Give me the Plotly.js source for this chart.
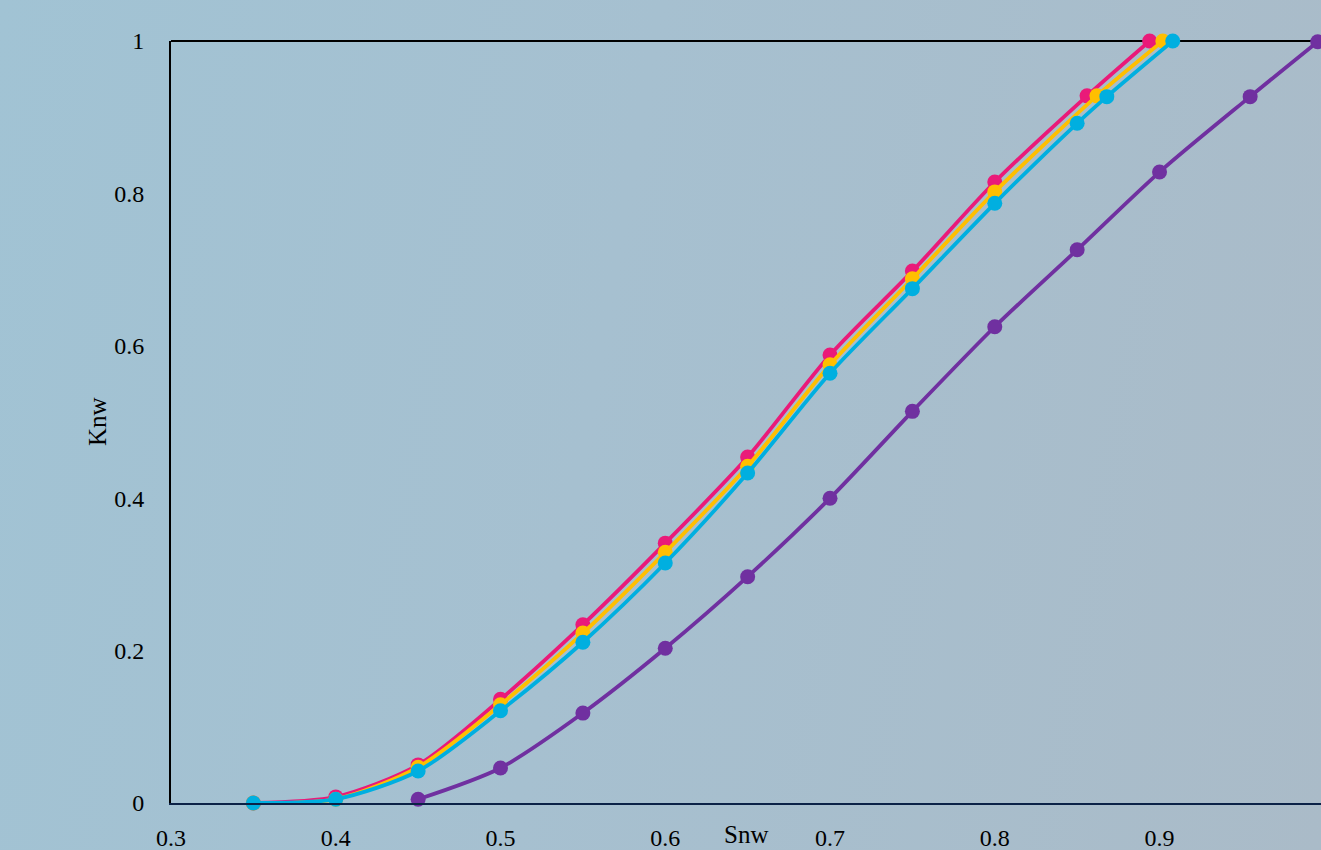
<!DOCTYPE html>
<html>
<head>
<meta charset="utf-8">
<script src="https://cdn.plot.ly/plotly-3.0.1.min.js"></script>
<style>
html, body { margin: 0; padding: 0; width: 1321px; height: 850px; overflow: hidden;
  background: linear-gradient(100deg, #a1c3d4 0%, #a6c0d0 45%, #aabbc8 100%); }
#chart { width: 1321px; height: 850px; }
</style>
</head>
<body>
<div id="chart"></div>
<script>
// Series data (Snw, Knw)
var pinkX   = [0.35, 0.40, 0.45, 0.50, 0.55, 0.60, 0.65, 0.70, 0.75, 0.80, 0.856, 0.894];
var pinkY   = [0.000, 0.008, 0.050, 0.136, 0.234, 0.341, 0.454, 0.588, 0.698, 0.815, 0.928, 1.000];
var orangeX = [0.35, 0.40, 0.45, 0.50, 0.55, 0.60, 0.65, 0.70, 0.75, 0.80, 0.862, 0.902];
var orangeY = [0.000, 0.005, 0.047, 0.129, 0.223, 0.329, 0.442, 0.575, 0.688, 0.802, 0.928, 1.000];
var blueX   = [0.35, 0.40, 0.45, 0.50, 0.55, 0.60, 0.65, 0.70, 0.75, 0.80, 0.850, 0.868, 0.908];
var blueY   = [0.000, 0.005, 0.042, 0.121, 0.211, 0.315, 0.433, 0.564, 0.675, 0.787, 0.892, 0.927, 1.000];
var purpleX = [0.45, 0.50, 0.55, 0.60, 0.65, 0.70, 0.75, 0.80, 0.85, 0.90, 0.955, 0.996];
var purpleY = [0.005, 0.046, 0.118, 0.203, 0.297, 0.400, 0.514, 0.625, 0.726, 0.828, 0.927, 0.999];

var xTicks = [0.3, 0.4, 0.5, 0.6, 0.7, 0.8, 0.9];
var xTickLabels = ['0.3', '0.4', '0.5', '0.6', '0.7', '0.8', '0.9'];
var yTicks = [0, 0.2, 0.4, 0.6, 0.8, 1];
var yTickLabels = ['0', '0.2', '0.4', '0.6', '0.8', '1'];

function series(x, y, color) {
  return {
    x: x, y: y, type: 'scatter', mode: 'lines+markers',
    line: { color: color, width: 3.8, shape: 'spline', smoothing: 0.8 },
    marker: { color: color, size: 15 },
    cliponaxis: false, showlegend: false, hoverinfo: 'x+y'
  };
}

var data = [
  series(purpleX, purpleY, '#7030a0'),
  series(pinkX, pinkY, '#ea1a79'),
  series(orangeX, orangeY, '#ffbf00'),
  series(blueX, blueY, '#00afe0')
];

var serif = '"Liberation Serif", "Times New Roman", serif';
var layout = {
  width: 1321, height: 850,
  margin: { l: 171, r: 0, t: 41, b: 47 },
  paper_bgcolor: 'rgba(0,0,0,0)',
  plot_bgcolor: 'rgba(0,0,0,0)',
  showlegend: false,
  xaxis: {
    range: [0.3, 0.998], tickvals: xTicks, ticktext: xTickLabels,
    showgrid: false, zeroline: false, showline: true, linecolor: '#0b2247', linewidth: 2,
    ticks: '', ticklabelstandoff: 12,
    tickfont: { family: serif, size: 24, color: '#000' }
  },
  yaxis: {
    range: [0, 1], tickvals: yTicks, ticktext: yTickLabels,
    showgrid: false, zeroline: false, showline: true, linecolor: '#000', linewidth: 2,
    ticks: '', ticklabelstandoff: 20,
    tickfont: { family: serif, size: 24, color: '#000' }
  },
  shapes: [
    { type: 'line', xref: 'paper', yref: 'paper', x0: 0, x1: 1, y0: 1, y1: 1,
      line: { color: '#000', width: 2 }, layer: 'below' }
  ],
  annotations: [
    { text: 'Snw', xref: 'paper', yref: 'paper', x: 0.5, y: 0, yshift: -31,
      showarrow: false, font: { family: serif, size: 25, color: '#000' }, yanchor: 'middle' },
    { text: 'Knw', xref: 'paper', yref: 'paper', x: 0, y: 0.5, xshift: -74,
      textangle: -90, showarrow: false, font: { family: serif, size: 25, color: '#000' }, xanchor: 'center' }
  ]
};

Plotly.newPlot('chart', data, layout, { displayModeBar: false, staticPlot: true });
</script>
</body>
</html>
